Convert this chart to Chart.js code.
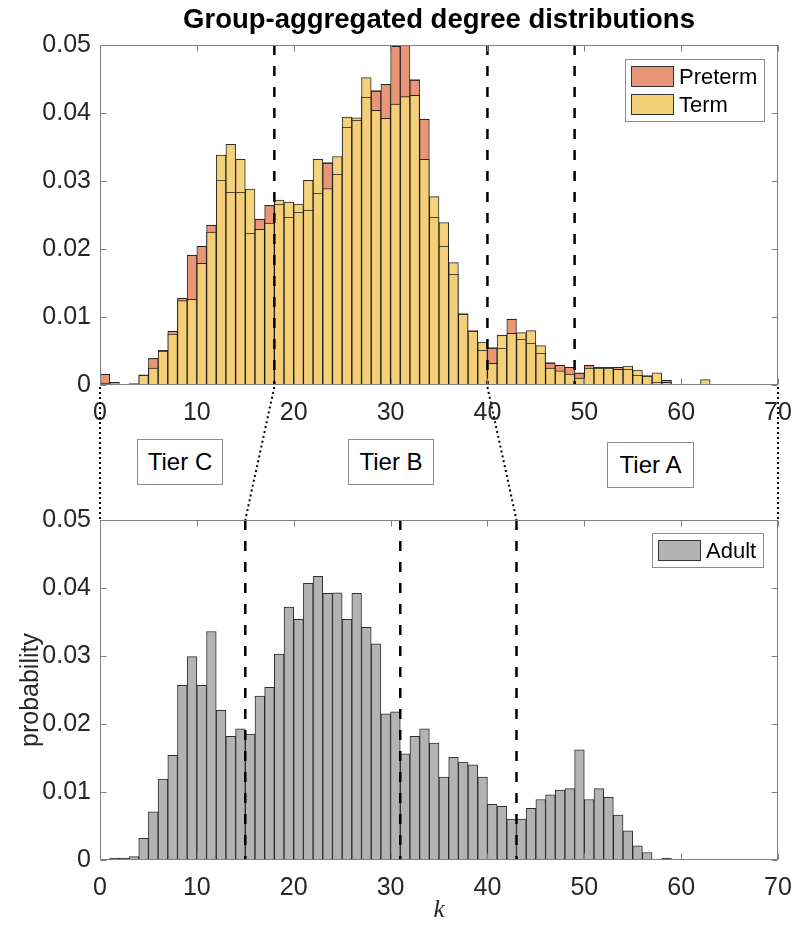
<!DOCTYPE html>
<html>
<head>
<meta charset="utf-8">
<script src="https://cdn.jsdelivr.net/npm/chart.js@4.4.1/dist/chart.umd.min.js"></script>
<style>
  html, body { margin: 0; padding: 0; background: #fff; }
  body { width: 794px; height: 926px; position: relative; overflow: hidden; font-family: "Liberation Sans", Arial, sans-serif; }
  canvas { position: absolute; left: 0; }
  #cTop { top: 0; }
  #cBottom { top: 480px; }
  #overlay { top: 0; pointer-events: none; }
  .tier { position: absolute; box-sizing: border-box; border: 1px solid #8c8c8c; background: #fff; color: #000;
          font-size: 24px; display: flex; align-items: center; justify-content: center; }
</style>
</head>
<body>
<canvas id="cTop" width="794" height="440" style="width:794px;height:440px"></canvas>
<canvas id="cBottom" width="794" height="446" style="width:794px;height:446px"></canvas>
<canvas id="overlay" width="794" height="926" style="width:794px;height:926px"></canvas>
<div class="tier" id="tierC" style="left:137px;top:439px;width:86px;height:46px">Tier C</div>
<div class="tier" id="tierB" style="left:348px;top:439px;width:86px;height:46px">Tier B</div>
<div class="tier" id="tierA" style="left:607px;top:442px;width:87px;height:46px">Tier A</div>
<script>
// ---------------- data ----------------
const infantBins = [0,1,2,3,4,5,6,7,8,9,10,11,12,13,14,15,16,17,18,19,20,21,22,23,24,25,26,27,28,29,30,31,32,33,34,35,36,37,38,39,40,41,42,43,44,45,46,47,48,49,50,51,52,53,54,55,56,57,58,59,60,61,62];
const pretermProb = [0.0016,0.0004,0.0001,0.0002,0.0014,0.0039,0.0050,0.0079,0.0128,0.0191,
                     0.0204,0.0235,0.0301,0.0284,0.0284,0.0224,0.0244,0.0264,0.0266,0.0247,
                     0.0255,0.0258,0.0283,0.0327,0.0310,0.0379,0.0390,0.0424,0.0433,0.0442,
                     0.0498,0.0500,0.0449,0.0391,0.0247,0.0205,0.0163,0.0104,0.0079,0.0051,
                     0.0055,0.0055,0.0097,0.0067,0.0062,0.0047,0.0033,0.0029,0.0026,0.0018,
                     0.0029,0.0025,0.0025,0.0026,0.0023,0.0015,0.0013,0.0004,0.0007,0.0001,
                     0,0,0];
const termProb    = [0.0003,0.0001,0.0001,0.0001,0.0015,0.0025,0.0051,0.0075,0.0124,0.0126,
                     0.0179,0.0225,0.0338,0.0354,0.0332,0.0288,0.0229,0.0238,0.0272,0.0269,
                     0.0266,0.0301,0.0332,0.0289,0.0336,0.0394,0.0393,0.0452,0.0404,0.0392,
                     0.0413,0.0424,0.0426,0.0332,0.0277,0.0239,0.0180,0.0105,0.0080,0.0063,
                     0.0032,0.0073,0.0076,0.0077,0.0080,0.0058,0.0025,0.0021,0.0016,0.0010,
                     0.0025,0.0026,0.0026,0.0023,0.0028,0.0022,0.0014,0.0018,0.0004,0.0001,
                     0,0,0.0008];
const adultBins = [0,1,2,3,4,5,6,7,8,9,10,11,12,13,14,15,16,17,18,19,20,21,22,23,24,25,26,27,28,29,30,31,32,33,34,35,36,37,38,39,40,41,42,43,44,45,46,47,48,49,50,51,52,53,54,55,56,57,58];
const adultProb   = [0,0.0003,0.0003,0.0005,0.0032,0.0071,0.0119,0.0154,0.0257,0.0299,
                     0.0257,0.0336,0.0220,0.0182,0.0193,0.0185,0.0241,0.0254,0.0303,0.0372,
                     0.0354,0.0407,0.0417,0.0392,0.0393,0.0354,0.0392,0.0342,0.0318,0.0215,
                     0.0218,0.0156,0.0182,0.0193,0.0172,0.0122,0.0151,0.0144,0.0140,0.0122,
                     0.0082,0.0079,0.0060,0.0060,0.0076,0.0089,0.0096,0.0103,0.0105,0.0162,
                     0.0089,0.0105,0.0092,0.0066,0.0043,0.0021,0.0011,0,0.0003];
const xTickValues = [0,10,20,30,40,50,60,70];
const yTickValues = [0,0.01,0.02,0.03,0.04,0.05];
const infantCuts = [18,40,49];
const adultCuts  = [15,31,43];
const tierLinks  = [[0,0],[18,15],[40,43],[70,70]];   // [infant k, adult k]
const titleText = 'Group-aggregated degree distributions';

// ---------------- helpers ----------------
const FONT = '"Liberation Sans", Arial, Helvetica, sans-serif';
Chart.defaults.font.family = FONT;
Chart.defaults.color = '#262626';

// show the edges of bars hidden underneath another (semi-transparent look)
const hiddenEdges = {
  id: 'hiddenEdges',
  afterDatasetsDraw(chart, args, opts) {
    if (opts.datasetIndex === undefined) return;
    const meta = chart.getDatasetMeta(opts.datasetIndex);
    const ctx = chart.ctx;
    ctx.save();
    ctx.strokeStyle = 'rgba(30,30,30,0.75)';
    ctx.lineWidth = 1;
    ctx.beginPath();
    meta.data.forEach(bar => {
      if (bar.base - bar.y < 1) return;
      const y = Math.round(bar.y) + 0.5;
      ctx.moveTo(bar.x - bar.width / 2, y);
      ctx.lineTo(bar.x + bar.width / 2, y);
    });
    ctx.stroke();
    ctx.restore();
  }
};

const matlabAxes = {
  id: 'matlabAxes',
  afterDatasetsDraw(chart, args, opts) {
    const { ctx, chartArea: a, scales: { x, y } } = chart;
    ctx.save();
    ctx.strokeStyle = '#000';
    ctx.lineWidth = 2.5;
    ctx.setLineDash([10, 11]);
    (opts.cuts || []).forEach(v => {
      const px = x.getPixelForValue(v);
      ctx.beginPath(); ctx.moveTo(px, a.top); ctx.lineTo(px, a.bottom); ctx.stroke();
    });
    ctx.setLineDash([]);
    ctx.strokeStyle = '#808080';
    ctx.lineWidth = 1;
    const L = Math.round(a.left) + 0.5, R = Math.round(a.right) - 0.5;
    const T = Math.round(a.top) + 0.5, B = Math.round(a.bottom) - 0.5;
    ctx.strokeRect(L, T, R - L, B - T);
    const tl = 6;
    ctx.beginPath();
    x.ticks.forEach(t => {
      const px = Math.round(x.getPixelForValue(t.value)) + 0.5;
      ctx.moveTo(px, B); ctx.lineTo(px, B - tl);
      ctx.moveTo(px, T); ctx.lineTo(px, T + tl);
    });
    y.ticks.forEach(t => {
      const py = Math.round(y.getPixelForValue(t.value)) + 0.5;
      ctx.moveTo(L, py); ctx.lineTo(L + tl, py);
      ctx.moveTo(R, py); ctx.lineTo(R - tl, py);
    });
    ctx.stroke();
    ctx.restore();
  }
};

const boxLegend = {
  id: 'boxLegend',
  afterDraw(chart, args, opts) {
    const { ctx, chartArea: a } = chart;
    const items = chart.data.datasets.map(d => ({ label: d.label, color: d.legendColor || d.backgroundColor }));
    ctx.save();
    ctx.font = '22px ' + FONT;
    const tw = Math.max(...items.map(i => ctx.measureText(i.label).width));
    const sw = 43, sh = 21, rowH = 28, padL = 6, gap = 5, padR = 7, padT = 7, padB = 6;
    const w = Math.round(padL + sw + gap + tw + padR);
    const h = padT + items.length * rowH - (rowH - sh) + padB;
    const right = Math.round(a.right) - opts.offsetX;
    const left = right - w;
    const top = Math.round(a.top) + opts.offsetY;
    ctx.fillStyle = '#fff';
    ctx.fillRect(left, top, w, h);
    ctx.strokeStyle = '#8c8c8c'; ctx.lineWidth = 1;
    ctx.strokeRect(left + 0.5, top + 0.5, w, h);
    items.forEach((it, i) => {
      const sy = top + padT + i * rowH;
      ctx.fillStyle = it.color;
      ctx.fillRect(left + padL, sy, sw, sh);
      ctx.strokeStyle = '#333';
      ctx.strokeRect(left + padL + 0.5, sy + 0.5, sw - 1, sh - 1);
      ctx.fillStyle = '#000';
      ctx.textBaseline = 'middle';
      ctx.textAlign = 'left';
      ctx.fillText(it.label, left + padL + sw + gap, sy + sh / 2 + 1);
    });
    ctx.restore();
  }
};

function histData(bins, vals) { return bins.map((k, i) => ({ x: k + 0.5, y: vals[i] })); }

function axisOptions(xHeight, xTitle) {
  return {
    x: {
      type: 'linear', min: 0, max: 70, offset: false,
      grid: { display: false, drawTicks: false }, border: { display: false },
      afterBuildTicks: s => { s.ticks = xTickValues.map(v => ({ value: v })); },
      ticks: { font: { size: 25 }, color: '#262626', padding: 13, maxRotation: 0, autoSkip: false },
      afterFit: s => { s.height = xHeight; s.paddingLeft = 0; s.paddingRight = 0; },
      title: xTitle
    },
    y: {
      min: 0, max: 0.05,
      grid: { display: false, drawTicks: false }, border: { display: false },
      afterBuildTicks: s => { s.ticks = yTickValues.map(v => ({ value: v })); },
      ticks: { font: { size: 25 }, color: '#262626', padding: 9,
               callback: v => String(+v.toFixed(2)) },
      afterFit: s => { s.width = 100; s.paddingTop = 0; s.paddingBottom = 0; }
    }
  };
}

// ---------------- top chart ----------------
const topScales = axisOptions(55, { display: false });
const chartTop = new Chart(document.getElementById('cTop'), {
  type: 'bar',
  data: {
    datasets: [
      { label: 'Preterm', data: histData(infantBins, pretermProb), order: 1,
        backgroundColor: 'rgb(233,150,118)', legendColor: 'rgb(233,150,118)',
        borderColor: 'rgba(25,25,25,0.9)', borderWidth: 1 },
      { label: 'Term', data: histData(infantBins, termProb), order: 0,
        backgroundColor: 'rgba(245,209,120,0.96)', legendColor: 'rgb(245,210,122)',
        borderColor: 'rgba(25,25,25,0.9)', borderWidth: 1 }
    ]
  },
  options: {
    responsive: false, animation: false, devicePixelRatio: 1,
    layout: { padding: { left: 0, right: 16, top: 0, bottom: 0 } },
    datasets: { bar: { grouped: false, barPercentage: 1, categoryPercentage: 1 } },
    scales: topScales,
    plugins: {
      legend: { display: false }, tooltip: { enabled: false },
      title: { display: true, text: titleText, fullSize: false, color: '#000',
               font: { size: 27.5, weight: 'bold' }, padding: { top: 4, bottom: 8 } },
      hiddenEdges: { datasetIndex: 0 },
      matlabAxes: { cuts: infantCuts },
      boxLegend: { offsetX: 14, offsetY: 14 }
    }
  },
  plugins: [hiddenEdges, matlabAxes, boxLegend]
});

// ---------------- bottom chart ----------------
const bottomScales = axisOptions(66, {
  display: true, text: 'k', color: '#262626',
  font: { family: '"Liberation Serif", "DejaVu Serif", serif', style: 'italic', size: 25 },
  padding: { top: 0, bottom: 1 }
});
bottomScales.y.title = { display: true, text: 'probability', color: '#262626',
  font: { size: 25 }, padding: { top: 16, bottom: 0 } };
const chartBottom = new Chart(document.getElementById('cBottom'), {
  type: 'bar',
  data: {
    datasets: [
      { label: 'Adult', data: histData(adultBins, adultProb),
        backgroundColor: 'rgb(179,179,179)', legendColor: 'rgb(179,179,179)',
        borderColor: 'rgba(25,25,25,0.9)', borderWidth: 1 }
    ]
  },
  options: {
    responsive: false, animation: false, devicePixelRatio: 1,
    layout: { padding: { left: 0, right: 16, top: 40, bottom: 0 } },
    datasets: { bar: { grouped: false, barPercentage: 1, categoryPercentage: 1 } },
    scales: bottomScales,
    plugins: {
      legend: { display: false }, tooltip: { enabled: false }, title: { display: false },
      matlabAxes: { cuts: adultCuts },
      boxLegend: { offsetX: 15, offsetY: 13 }
    }
  },
  plugins: [hiddenEdges, matlabAxes, boxLegend]
});

// ---------------- linking dotted lines ----------------
(function drawLinks() {
  const ov = document.getElementById('overlay');
  const ctx = ov.getContext('2d');
  const topOff = document.getElementById('cTop').offsetTop;
  const botOff = document.getElementById('cBottom').offsetTop;
  const y1 = chartTop.chartArea.bottom + topOff + 2;
  const y2 = chartBottom.chartArea.top + botOff;
  ctx.strokeStyle = '#000';
  ctx.lineWidth = 2;
  ctx.setLineDash([2, 3]);
  tierLinks.forEach(([kTop, kBot]) => {
    const x1 = chartTop.scales.x.getPixelForValue(kTop);
    const x2 = chartBottom.scales.x.getPixelForValue(kBot);
    ctx.beginPath(); ctx.moveTo(x1, y1); ctx.lineTo(x2, y2); ctx.stroke();
  });
})();
</script>
</body>
</html>
